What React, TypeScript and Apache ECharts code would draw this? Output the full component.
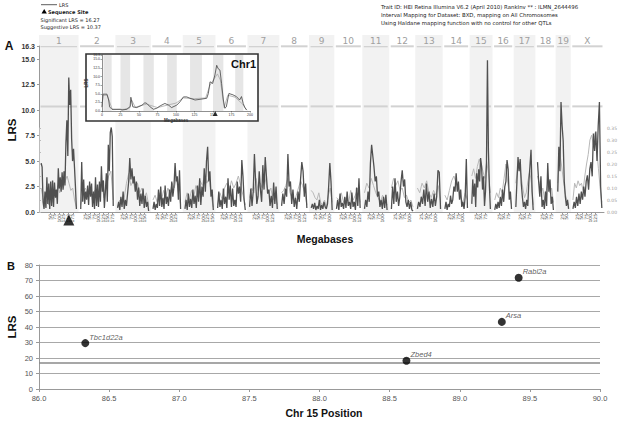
import React, { useEffect, useRef } from "react";
import * as echarts from "echarts";

// ---------- Panel A data ----------
const CHR_NAMES = ["1","2","3","4","5","6","7","8","9","10","11","12","13","14","15","16","17","18","19","X"];
const CHR_LEN = [195,180,172,153,157,153,153,140,116,131,125,120,128,125,103,93,96,88,60,160];
const GAP = 24;
const LRS_MAX = 16.3;
const SIGNIFICANT = 16.27;
const SUGGESTIVE = 10.37;
const MB_TICKS = [25,50,75,100,125,150,175];
const SEQ_SITE_MB = 153;

// LRS trace per chromosome (evenly spaced along each chromosome)
const LRS_BY_CHR: number[][] = [
  [4.8,4.4,1.0,0.3,2.0,0.4,3.4,0.8,2.8,0.3,3.0,0.6,3.1,0.5,2.9,1.4,2.2,0.8,4.3,2.3,3.4,2.0,3.9,2.2,4.0,2.6,6.8,9.0,5.5,13.2,10.5,12.0,7.2,5.0,6.2,4.4,2.5,0.3],
  [0.3,4.9,1.0,3.2,0.8,2.0,1.2,2.6,0.7,3.0,1.5,2.8,0.5,2.0,0.3,3.4,0.6,2.7,0.5,3.0,1.0,4.5,2.0,3.1,0.4,2.0,3.8,1.0,6.6,4.0,7.8,8.3,7.4,0.6],
  [0.4,1.0,0.2,1.5,0.5,2.0,0.3,1.2,0.6,1.8,3.0,5.3,3.2,4.3,2.8,3.5,2.0,3.0,1.2,2.4,0.6,1.8,0.8,2.3,0.4,1.6,0.5,1.0,0.1],
  [0.3,1.0,0.2,0.8,0.4,2.2,0.6,2.5,0.5,1.4,0.3,2.6,0.8,1.5,0.6,2.2,1.0,3.0,1.5,2.5,4.8,3.0,3.5,1.2,4.1,0.3],
  [0.3,1.2,0.2,1.8,0.5,1.3,0.4,2.2,0.8,1.6,0.4,2.6,1.0,3.3,0.7,2.5,1.5,4.3,2.0,5.0,6.4,3.0,4.0,1.5,2.2,0.2],
  [0.4,2.0,0.5,1.2,0.3,2.3,0.8,1.5,0.4,3.3,1.2,2.6,0.5,2.3,0.6,1.2,0.5,3.0,1.8,2.5,1.0,5.1,3.5,1.2,0.2],
  [0.5,2.3,0.6,2.0,5.7,3.0,0.8,1.5,4.0,2.2,1.0,4.6,2.2,5.4,3.5,1.8,2.2,0.6,1.6,0.4,2.9,0.8,2.5,0.3],
  [0.6,1.8,0.8,2.3,1.5,5.7,2.5,3.0,0.8,2.2,0.5,1.4,0.3,2.0,1.0,3.2,4.9,4.0,1.5,2.8,0.4],
  [0.4,0.8,0.3,0.9,0.2,0.6,0.3,1.2,0.2,0.7,0.3,1.0,0.5,0.3,0.8,2.5,4.8,3.0,0.2],
  [0.3,1.2,0.2,1.8,0.5,0.9,0.3,1.5,0.4,2.0,0.6,1.0,0.3,1.9,0.5,1.0,0.2,2.4,0.6,3.3,0.4],
  [0.3,1.2,0.5,2.0,1.0,4.8,6.6,5.5,4.4,3.0,3.5,1.5,2.0,0.5,1.2,0.3,1.5,0.4,1.7,0.2],
  [0.3,2.5,0.8,3.3,1.0,2.0,0.6,1.5,3.0,4.1,2.5,3.2,1.0,0.5,1.2,0.3,1.0,0.2,0.1],
  [0.3,1.0,0.5,1.5,0.8,2.2,0.6,2.8,1.0,2.0,0.4,1.3,0.5,1.8,0.6,1.5,4.1,3.9,0.3],
  [0.3,1.0,0.2,0.8,0.5,1.6,0.8,1.2,2.5,2.0,3.8,2.0,3.0,1.2,2.2,0.5,1.0,0.3,1.5,5.2,0.4],
  [0.8,3.2,1.5,2.8,0.5,3.8,2.4,4.2,3.0,5.3,4.5,2.2,3.5,0.6,2.0,4.8,14.9,6.0,2.5,0.3],
  [0.2,0.8,0.3,1.0,0.4,1.5,0.6,2.2,1.0,2.5,3.0,5.1,4.2,1.2,2.0,0.3],
  [0.5,3.0,5.4,4.0,5.2,2.8,1.5,0.5,1.0,0.3,1.2,0.6,3.0,4.5,6.1,2.0,0.2],
  [4.9,3.0,1.5,3.5,0.5,1.2,0.3,2.0,0.6,4.8,2.0,3.2,0.8,1.5,0.2],
  [2.0,6.4,4.0,10.8,8.5,7.0,3.0,1.5,0.6,1.2,0.3],
  [0.3,1.0,0.4,1.5,0.6,1.8,0.8,2.0,1.2,2.5,1.5,3.0,3.6,2.2,4.2,4.9,3.5,7.7,6.0,7.9,5.0,8.5,10.8,2.5,0.4],
];

// Additive effect trace per chromosome (right axis)
const ADD_BY_CHR: number[][] = [
  [0.10,0.06,0.02,0.05,0.03,0.07,0.04,0.09,0.06,0.11,0.08,0.12,0.10,0.13,0.15,0.12,0.09,0.10,0.05,0.02],
  [0.03,0.08,0.10,0.07,0.11,0.05,0.09,0.04,0.08,0.12,0.06,0.10,0.15,0.17,0.05],
  [0.02,0.05,0.03,0.06,0.12,0.16,0.11,0.13,0.09,0.12,0.08,0.10,0.06,0.08,0.03],
  [0.05,0.07,0.04,0.08,0.05,0.09,0.06,0.10,0.08,0.12,0.10,0.14,0.08,0.03],
  [0.04,0.08,0.05,0.09,0.06,0.11,0.09,0.13,0.11,0.16,0.12,0.14,0.07,0.02],
  [0.03,0.08,0.05,0.10,0.12,0.09,0.13,0.10,0.12,0.15,0.11,0.07,0.03],
  [0.06,0.10,0.08,0.14,0.09,0.12,0.10,0.15,0.11,0.08,0.10,0.05,0.07,0.03],
  [0.08,0.09,0.11,0.14,0.08,0.06,0.04,0.07,0.10,0.13,0.11,0.08,0.03],
  [0.09,0.08,0.06,0.05,0.08,0.04,0.03,0.05,0.02,0.07,0.10,0.04],
  [0.06,0.05,0.08,0.04,0.06,0.03,0.09,0.05,0.07,0.10,0.04],
  [0.08,0.12,0.10,0.14,0.11,0.08,0.06,0.04,0.07,0.05,0.03],
  [0.10,0.14,0.11,0.13,0.09,0.10,0.06,0.07,0.04,0.05,0.02],
  [0.10,0.08,0.12,0.10,0.13,0.08,0.06,0.09,0.07,0.11,0.04],
  [0.07,0.05,0.09,0.13,0.15,0.12,0.10,0.06,0.04,0.08,0.05],
  [0.15,0.18,0.14,0.19,0.22,0.20,0.17,0.14,0.21,0.16,0.08],
  [0.05,0.08,0.06,0.10,0.08,0.14,0.20,0.12,0.07,0.03],
  [0.12,0.18,0.20,0.15,0.10,0.06,0.08,0.13,0.17,0.12,0.03],
  [0.15,0.12,0.08,0.10,0.05,0.09,0.13,0.08,0.10,0.04],
  [0.12,0.25,0.20,0.14,0.08,0.05,0.03],
  [0.05,0.12,0.10,0.13,0.11,0.12,0.09,0.15,0.20,0.24,0.30,0.32,0.28,0.33,0.26,0.18,0.10,0.04],
];

// Inset (Chr1 detail)
const INSET_MB = [0,1.3,6.7,9,10.3,13.5,24.7,27,33.7,38,39,41.7,47,54,58,60.6,65,69.5,74,78.6,85,90,94,101,105.5,110,114.5,119,125.8,132.5,141.5,143.7,146,149.5,152.6,155,157,159.4,161.6,164,166,168,171.5,177,181.6,186,188.5,190.8,193,195.3];
const INSET_LRS = [1.2,4.9,4.9,3.2,1.2,0.5,0.5,0.3,0.5,1.3,4.0,1.2,1.0,1.7,2.4,2.2,1.2,0.5,0.8,1.5,2.2,1.7,1.0,1.7,2.7,4.1,4.1,3.7,3.2,3.4,3.7,5.1,8.5,8.0,10.5,13.3,12.3,11.9,8.0,3.2,0.8,1.2,5.1,4.7,4.2,3.2,4.2,2.2,1.0,0.3];
const INSET_MB2 = [0,1.5,7,10,14,30,38,40,45,60,75,90,100,110,125,140,146,152,156,160,165,170,180,190,196];
const INSET_LRS2 = [1.0,4.5,4.6,2.8,0.4,0.5,1.0,3.2,1.1,2.0,1.0,1.8,2.3,3.8,3.6,3.8,7.5,9.5,10.8,9.0,1.0,4.6,4.0,2.0,0.2];
const INSET_BANDS = [[2,13],[25,38],[56,70],[88,101],[119,135],[150,164],[180,191]];

// ---------- Panel B data ----------
const GENES = ["Tbc1d22a","Zbed4","Arsa","Rabl2a"];
const GENE_POS = [86.33, 88.62, 89.30, 89.42];
const GENE_LRS = [29.6, 18.2, 43.3, 71.8];
const B_THRESHOLD = 17;

const BAND = "#f2f2f2";
const SANS = "Liberation Sans";
const VERD = "DejaVu Sans";

function buildOption(): any {
  const offsets: number[] = [];
  let acc = 0;
  CHR_LEN.forEach((l) => { offsets.push(acc); acc += l + GAP; });
  const TOTAL = acc;
  const toG = (c: number, mb: number) => offsets[c] + GAP / 2 + mb;

  const lrsData: any[] = [];
  LRS_BY_CHR.forEach((arr, c) => {
    arr.forEach((v, i) => lrsData.push([toG(c, (i * CHR_LEN[c]) / (arr.length - 1)), v]));
    lrsData.push([toG(c, CHR_LEN[c]) + 1, "-"]);
  });
  const addData: any[] = [];
  ADD_BY_CHR.forEach((arr, c) => {
    arr.forEach((v, i) => addData.push([toG(c, (i * CHR_LEN[c]) / (arr.length - 1)), v]));
    addData.push([toG(c, CHR_LEN[c]) + 1, "-"]);
  });

  const tickVals: number[] = [];
  const tickLabel = new Map<number, string>();
  CHR_LEN.forEach((len, c) => {
    MB_TICKS.filter((m) => m < len - 4).forEach((m) => {
      const g = toG(c, m);
      tickVals.push(g);
      tickLabel.set(g, String(m));
    });
  });

  const bandData = CHR_LEN.map((l, c) => [offsets[c], offsets[c] + l + GAP, c]);

  const txt = (o: any) => ({
    type: "text",
    z: o.z ?? 20,
    x: o.x,
    y: o.y,
    rotation: o.rotation ?? 0,
    style: {
      text: o.text,
      fill: o.fill ?? "#222",
      fontSize: o.size,
      fontWeight: o.weight ?? "normal",
      fontStyle: o.style ?? "normal",
      fontFamily: o.family ?? SANS,
      textAlign: o.align ?? "left",
      align: o.align ?? "left",
      textVerticalAlign: "middle",
      verticalAlign: "middle",
    },
  });

  return {
    animation: false,
    backgroundColor: "#fff",
    grid: [
      { left: 39, right: 20, top: 46, bottom: 209 },
      { left: 39, right: 20, top: 35, height: 11 },
      { left: 39, right: 20, top: 128, bottom: 209 },
      { left: 102, top: 55, width: 148, height: 56 },
      { left: 39, right: 24, top: 265, bottom: 32 },
    ],
    xAxis: [
      {
        gridIndex: 0, type: "value", min: 0, max: TOTAL, z: 5,
        axisLine: { show: true, lineStyle: { color: "#999", width: 1 } },
        axisTick: { show: true, customValues: tickVals, length: 2, lineStyle: { color: "#999" } },
        axisLabel: {
          customValues: tickVals, rotate: 90, fontSize: 4.5, color: "#555", margin: 2,
          fontFamily: VERD, hideOverlap: false,
          formatter: (v: number) => tickLabel.get(v) ?? "",
        },
        splitLine: { show: false },
      },
      { gridIndex: 1, type: "value", min: 0, max: TOTAL, show: false },
      { gridIndex: 2, type: "value", min: 0, max: TOTAL, show: false },
      {
        gridIndex: 3, type: "value", min: 0, max: 200, interval: 25, z: 12,
        axisLine: { lineStyle: { color: "#444", width: 0.6 } },
        axisTick: { length: 1.5, lineStyle: { color: "#444", width: 0.5 } },
        axisLabel: { fontSize: 3.5, color: "#333", margin: 2, fontFamily: SANS },
        splitLine: { show: false },
        name: "Megabases", nameLocation: "middle", nameGap: 6.5,
        nameTextStyle: { fontSize: 4.5, color: "#333", fontWeight: "bold", fontFamily: SANS },
      },
      {
        gridIndex: 4, type: "value", min: 86, max: 90, interval: 0.5,
        axisLine: { lineStyle: { color: "#999" } },
        axisTick: { show: true, length: 3, lineStyle: { color: "#999" } },
        axisLabel: { fontSize: 7.5, color: "#555", margin: 5, fontFamily: SANS, formatter: (v: number) => v.toFixed(1) },
        splitLine: { show: false },
      },
    ],
    yAxis: [
      {
        gridIndex: 0, type: "value", min: 0, max: LRS_MAX, interval: 2.5, z: 5,
        axisLine: { show: true, lineStyle: { color: "#999" } },
        axisTick: { show: true, length: 2, lineStyle: { color: "#999" } },
        axisLabel: { fontSize: 7, fontWeight: "bold", color: "#333", margin: 4, fontFamily: SANS, formatter: (v: number) => v.toFixed(1) },
        splitLine: { show: false },
      },
      { gridIndex: 1, type: "value", min: 0, max: 1, show: false },
      {
        gridIndex: 2, type: "value", min: 0, max: 0.35, interval: 0.05, position: "right", z: 5,
        axisLine: { show: true, lineStyle: { color: "#bbb" } },
        axisTick: { show: true, length: 2, lineStyle: { color: "#bbb" } },
        axisLabel: { fontSize: 4.5, color: "#999", margin: 3, fontFamily: VERD, formatter: (v: number) => v.toFixed(2) },
        splitLine: { show: false },
      },
      {
        gridIndex: 3, type: "value", min: 0, max: LRS_MAX, interval: 2.5, z: 12,
        axisLine: { show: true, lineStyle: { color: "#444", width: 0.6 } },
        axisTick: { show: true, length: 1.5, lineStyle: { color: "#444", width: 0.5 } },
        axisLabel: { fontSize: 3.5, color: "#333", margin: 2, fontFamily: SANS, formatter: (v: number) => v.toFixed(1) },
        splitLine: { show: false },
        name: "LRS", nameLocation: "middle", nameGap: 9, nameRotate: 90,
        nameTextStyle: { fontSize: 4.5, color: "#333", fontWeight: "bold", fontFamily: SANS },
      },
      {
        gridIndex: 4, type: "value", min: 0, max: 80, interval: 10,
        axisLine: { show: true, lineStyle: { color: "#999" } },
        axisTick: { show: true, length: 3, lineStyle: { color: "#999" } },
        axisLabel: { fontSize: 7.5, color: "#555", margin: 6, fontFamily: SANS },
        splitLine: { show: true, lineStyle: { color: "#a8a8a8", width: 1 } },
      },
    ],
    series: [
      {
        type: "custom", xAxisIndex: 0, yAxisIndex: 0, z: 1, silent: true,
        data: bandData,
        renderItem: (_p: any, api: any) => {
          const s = api.value(0), e = api.value(1), c = api.value(2);
          const tl = api.coord([s, LRS_MAX]);
          const br = api.coord([e, 0]);
          const ys = api.coord([s, SIGNIFICANT])[1];
          const yg = api.coord([s, SUGGESTIVE])[1];
          const children: any[] = [];
          if (c % 2 === 0) {
            children.push({ type: "rect", shape: { x: tl[0], y: tl[1], width: br[0] - tl[0], height: br[1] - tl[1] }, style: { fill: BAND } });
          }
          children.push({ type: "line", shape: { x1: tl[0] + 1.5, y1: ys, x2: br[0] - 1.5, y2: ys }, style: { stroke: "#d2d2d2", lineWidth: 2 } });
          children.push({ type: "line", shape: { x1: tl[0] + 1.5, y1: yg, x2: br[0] - 1.5, y2: yg }, style: { stroke: "#d2d2d2", lineWidth: 2 } });
          return { type: "group", children };
        },
      },
      {
        type: "custom", xAxisIndex: 1, yAxisIndex: 1, z: 1, silent: true,
        data: bandData,
        renderItem: (_p: any, api: any) => {
          const s = api.value(0), e = api.value(1), c = api.value(2);
          const tl = api.coord([s, 1]);
          const br = api.coord([e, 0]);
          const children: any[] = [];
          if (c % 2 === 0) {
            children.push({ type: "rect", shape: { x: tl[0], y: tl[1], width: br[0] - tl[0], height: br[1] - tl[1] }, style: { fill: BAND } });
          }
          children.push({
            type: "text",
            style: {
              text: CHR_NAMES[c], x: (tl[0] + br[0]) / 2, y: (tl[1] + br[1]) / 2,
              textAlign: "center", align: "center", textVerticalAlign: "middle", verticalAlign: "middle",
              fill: "#a0a0a0", fontSize: 9, fontFamily: VERD,
            },
          });
          return { type: "group", children };
        },
      },
      {
        type: "line", xAxisIndex: 2, yAxisIndex: 2, z: 2, data: addData, showSymbol: false, symbol: "none",
        connectNulls: false, lineStyle: { color: "#b8b8b8", width: 1 },
      },
      {
        type: "line", xAxisIndex: 0, yAxisIndex: 0, z: 3, data: lrsData, showSymbol: false, symbol: "none",
        connectNulls: false, lineStyle: { color: "#505050", width: 1.3 },
      },
      {
        type: "scatter", xAxisIndex: 0, yAxisIndex: 0, z: 6, clip: false,
        data: [[toG(0, SEQ_SITE_MB), 0]], symbol: "triangle", symbolSize: [11, 11], symbolOffset: [0, 8],
        itemStyle: { color: "#000" },
      },
      // inset
      {
        type: "custom", xAxisIndex: 3, yAxisIndex: 3, z: 11, silent: true,
        data: INSET_BANDS,
        renderItem: (_p: any, api: any) => {
          const tl = api.coord([api.value(0), LRS_MAX]);
          const br = api.coord([api.value(1), 0]);
          return { type: "rect", shape: { x: tl[0], y: tl[1], width: br[0] - tl[0], height: br[1] - tl[1] }, style: { fill: "#e6e6e6" } };
        },
      },
      {
        type: "line", xAxisIndex: 3, yAxisIndex: 3, z: 12, symbol: "none",
        data: INSET_MB2.map((m, i) => [m, INSET_LRS2[i]]),
        lineStyle: { color: "#a8a8a8", width: 0.8 },
        markLine: {
          silent: true, symbol: "none", label: { show: false },
          lineStyle: { color: "#c8c8c8", width: 1, type: "solid" },
          data: [{ yAxis: SUGGESTIVE }],
        },
      },
      {
        type: "line", xAxisIndex: 3, yAxisIndex: 3, z: 12, symbol: "none",
        data: INSET_MB.map((m, i) => [m, INSET_LRS[i]]),
        lineStyle: { color: "#444", width: 0.8 },
      },
      {
        type: "scatter", xAxisIndex: 3, yAxisIndex: 3, z: 13, clip: false,
        data: [[SEQ_SITE_MB, 0]], symbol: "triangle", symbolSize: [5, 5], symbolOffset: [0, 2.5],
        itemStyle: { color: "#000" },
      },
      // panel B
      {
        type: "scatter", xAxisIndex: 4, yAxisIndex: 4, z: 5,
        data: GENES.map((g, i) => ({ name: g, value: [GENE_POS[i], GENE_LRS[i]] })),
        symbolSize: 8, itemStyle: { color: "#000" },
        label: {
          show: true, position: "right", distance: 0, offset: [0, -6],
          formatter: (p: any) => p.name, fontSize: 7.5, fontStyle: "italic", color: "#333", fontFamily: SANS,
        },
        markLine: {
          silent: true, symbol: "none", label: { show: false },
          lineStyle: { color: "#8a8a8a", width: 1.5, type: "solid" },
          data: [{ yAxis: B_THRESHOLD }],
        },
      },
    ],
    graphic: [
      // inset frame
      { type: "rect", z: 10, shape: { x: 86, y: 54, width: 172, height: 67 }, style: { fill: "#fff", stroke: "#333", lineWidth: 1.6 } },
      txt({ x: 231, y: 63.5, text: "Chr1", size: 11, weight: "bold", z: 14, fill: "#111" }),
      // legend top-left
      { type: "line", z: 20, shape: { x1: 41, y1: 4.7, x2: 57, y2: 4.7 }, style: { stroke: "#333", lineWidth: 0.8 } },
      txt({ x: 59, y: 4.7, text: "LRS", size: 5, family: VERD }),
      { type: "polygon", z: 20, shape: { points: [[41.5, 13.5], [44.2, 9], [46.9, 13.5]] }, style: { fill: "#000" } },
      txt({ x: 48, y: 11.5, text: "Sequence Site", size: 5, family: VERD, weight: "bold" }),
      txt({ x: 40.5, y: 20, text: "Significant LRS = 16.27", size: 5, family: VERD }),
      txt({ x: 40.5, y: 26.7, text: "Suggestive LRS = 10.37", size: 5, family: VERD }),
      // top-right info
      txt({ x: 381, y: 6.7, text: "Trait ID: HEI Retina Illumina V6.2 (April 2010) RankInv ** : ILMN_2644496", size: 5.4, family: VERD }),
      txt({ x: 381, y: 14.7, text: "Interval Mapping for Dataset: BXD, mapping on All Chromosomes", size: 5.4, family: VERD }),
      txt({ x: 381, y: 22.7, text: "Using Haldane mapping function with no control for other QTLs", size: 5.4, family: VERD }),
      // panel titles
      txt({ x: 9, y: 46, text: "A", size: 12, weight: "bold", align: "center", fill: "#111" }),
      txt({ x: 11.5, y: 130, text: "LRS", size: 11.5, weight: "bold", align: "center", rotation: Math.PI / 2, fill: "#111" }),
      txt({ x: 325, y: 238.5, text: "Megabases", size: 10.5, weight: "bold", align: "center", fill: "#111" }),
      txt({ x: 11, y: 266, text: "B", size: 11, weight: "bold", align: "center", fill: "#111" }),
      txt({ x: 11.5, y: 327, text: "LRS", size: 11.5, weight: "bold", align: "center", rotation: Math.PI / 2, fill: "#111" }),
      txt({ x: 324, y: 413, text: "Chr 15 Position", size: 10.5, weight: "bold", align: "center", fill: "#111" }),
    ],
  };
}

export default function App() {
  const ref = useRef<HTMLDivElement>(null);
  useEffect(() => {
    if (!ref.current) return;
    const chart = echarts.init(ref.current, null, { renderer: "svg" });
    chart.setOption(buildOption());
    return () => chart.dispose();
  }, []);
  return (
    <div
      ref={ref}
      style={{ position: "fixed", left: 0, top: 0, width: 624, height: 421, background: "#fff" }}
    />
  );
}
